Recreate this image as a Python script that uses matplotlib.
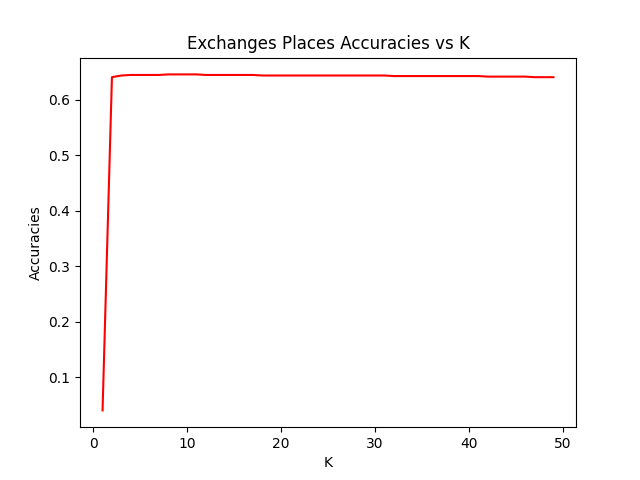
import matplotlib
matplotlib.use("Agg")
import matplotlib.pyplot as plt

ks = list(range(1, 50))
accuracies = [
    0.040, 0.641, 0.644, 0.645, 0.645, 0.645, 0.645, 0.646, 0.646, 0.646,
    0.646, 0.645, 0.645, 0.645, 0.645, 0.645, 0.645, 0.644, 0.644, 0.644,
    0.644, 0.644, 0.644, 0.644, 0.644, 0.644, 0.644, 0.644, 0.644, 0.644,
    0.644, 0.643, 0.643, 0.643, 0.643, 0.643, 0.643, 0.643, 0.643, 0.643,
    0.643, 0.642, 0.642, 0.642, 0.642, 0.642, 0.641, 0.641, 0.641,
]

fig, ax = plt.subplots(figsize=(6.4, 4.8), dpi=100)
ax.plot(ks, accuracies, color='red')
ax.set_title('Exchanges Places Accuracies vs K')
ax.set_xlabel('K')
ax.set_ylabel('Accuracies')

fig.savefig('out.png')
